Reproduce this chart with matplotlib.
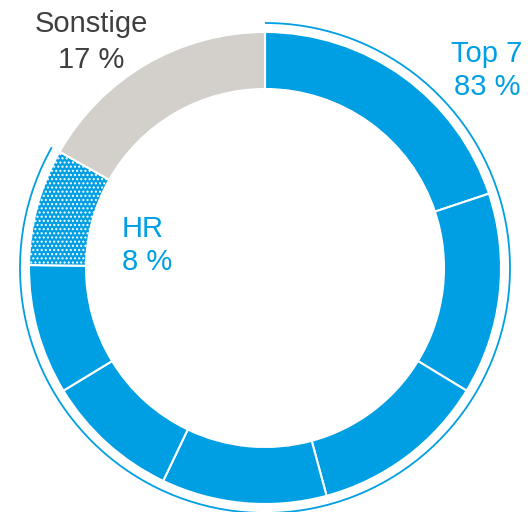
import matplotlib.pyplot as plt
from matplotlib.patches import Arc

# share of each segment, clockwise from 12 o'clock (percent)
top7_shares = [19.9, 13.8, 12.1, 11.3, 9.2, 8.9, 8.0]   # last one is HR
other_share = 16.8
labels = ['Top 7', '83 %', 'HR', '8 %', 'Sonstige', '17 %']

blue = '#009FE3'
grey = '#D3D0CB'
dark = '#3F3F3F'

plt.rcParams['font.family'] = ['Liberation Sans', 'DejaVu Sans']
plt.rcParams['hatch.linewidth'] = 1.0

fig = plt.figure(figsize=(5.28, 5.12), dpi=100)
ax = fig.add_axes([0, 0, 1, 1])
ax.set_xlim(0, 528)
ax.set_ylim(0, 512)
ax.set_aspect('equal')
ax.axis('off')

cx, cy = 265, 512 - 268
r_out, r_in = 236, 179

values = top7_shares + [other_share]
colors = [blue] * len(top7_shares) + [grey]
wedges, _ = ax.pie(values, colors=colors, startangle=90, counterclock=False,
                   radius=r_out, center=(cx, cy),
                   wedgeprops=dict(width=r_out - r_in, edgecolor='white', linewidth=1.5))
ax.set_xlim(0, 528)
ax.set_ylim(0, 512)

# HR segment dotted
wedges[len(top7_shares) - 1].set_hatch('....')

# thin outer arc around the Top 7 part
end_angle = 90 - 360 * sum(top7_shares) / 100
ax.add_patch(Arc((cx, cy), 2 * 245, 2 * 245, theta1=end_angle, theta2=90,
                 color=blue, linewidth=1.3))

fs = 21
ax.text(487, 512 - 62, labels[0], color=blue, fontsize=fs, ha='center', va='baseline')
ax.text(487, 512 - 95, labels[1], color=blue, fontsize=fs, ha='center', va='baseline')
ax.text(122, 512 - 237, labels[2], color=blue, fontsize=fs, ha='left', va='baseline')
ax.text(122, 512 - 270, labels[3], color=blue, fontsize=fs, ha='left', va='baseline')
ax.text(91, 512 - 32, labels[4], color=dark, fontsize=fs, ha='center', va='baseline')
ax.text(91, 512 - 68, labels[5], color=dark, fontsize=fs, ha='center', va='baseline')

fig.savefig('out.png', dpi=100, facecolor='white')
